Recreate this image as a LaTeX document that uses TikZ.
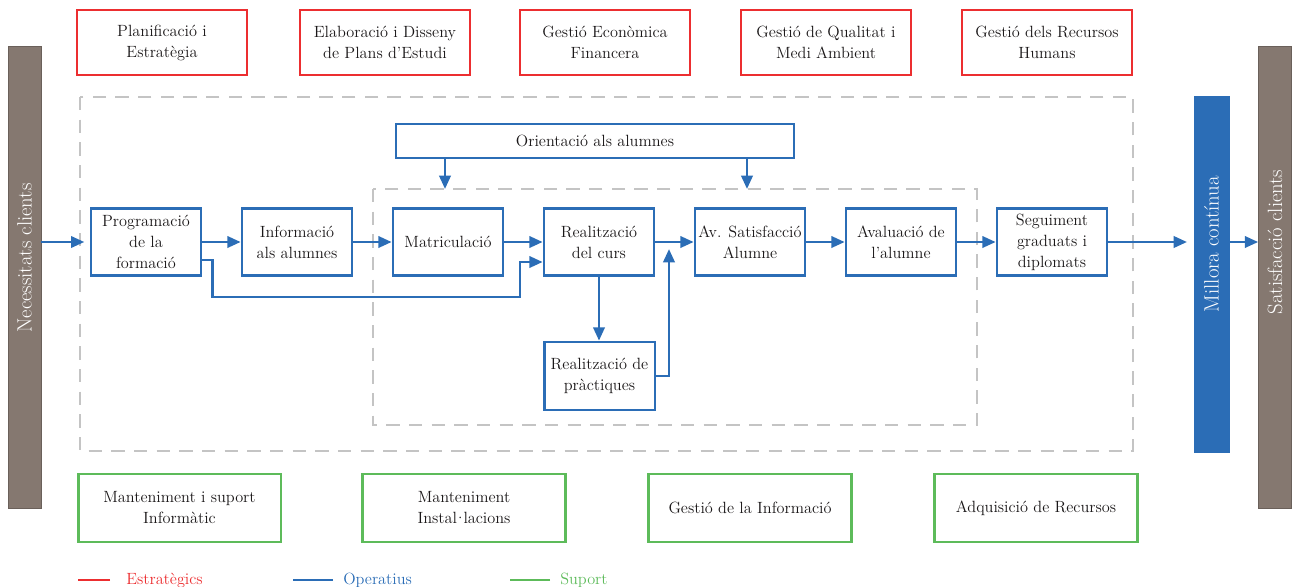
\documentclass[tikz,border=0pt]{standalone}
\usepackage{tikz}
\usepackage{xcolor}
\usetikzlibrary{arrows.meta,calc,positioning}

\definecolor{estratc}{HTML}{EC2E30}
\definecolor{operc}{HTML}{2B6DB6}
\definecolor{suportc}{HTML}{5DBB5A}
\definecolor{barc}{HTML}{857870}
\definecolor{zonec}{HTML}{C4C4C4}
\definecolor{txtc}{HTML}{1A1718}

\newcommand{\boxfont}{\fontsize{12.2}{15.75}\selectfont}
\newcommand{\barfont}{\fontsize{15.5}{18}\selectfont}

\tikzset{
  base/.style={rectangle, inner sep=2pt, align=center, font=\boxfont, text=txtc},
  estrat/.style={base, draw=estratc, line width=2pt, minimum width=127.5pt, minimum height=48.75pt},
  oper/.style={base, draw=operc, line width=2pt, minimum width=82.5pt, minimum height=50pt},
  suport/.style={base, draw=suportc, line width=2pt, minimum width=152pt, minimum height=51pt},
  flow/.style={draw=operc, line width=2pt, -{Triangle[length=10pt,width=8.5pt]}},
  bar/.style={rectangle, fill=barc, draw=barc!80!black, line width=0.5pt, minimum width=24.75pt, minimum height=346.5pt},
  bartext/.style={rotate=90, text=white, font=\barfont},
  zone/.style={draw=zonec, line width=1pt, dash pattern=on 10pt off 7pt},
  legline/.style={line width=2pt}
}

\begin{document}
\begin{tikzpicture}[x=0.75pt,y=-0.75pt]
\useasboundingbox (0,0) rectangle (1293,586);

\node[estrat] (planif) at (162,42.5) {Planificació i\\Estratègia};
\node[estrat] (elab) at (385,42.5) {Elaboració i Disseny\\de Plans d’Estudi};
\node[estrat] (econ) at (605,42.5) {Gestió Econòmica\\Financera};
\node[estrat] (qual) at (826,42.5) {Gestió de Qualitat i\\Medi Ambient};
\node[estrat] (rrhh) at (1047,42.5) {Gestió dels Recursos\\Humans};

\draw[zone] (80,97) rectangle (1133,451);
\draw[zone] (373,189) rectangle (977,425);
\coordinate (o1) at (445,189);
\coordinate (o2) at (747,189);

\node[bar] (necess) at (24.5,277) {};
\node[bartext] (necesst) at (24.5,258) {Necessitats clients};
\node[bar, fill=operc, draw=operc, minimum width=26.25pt, minimum height=267pt] (millora) at (1211.5,274) {};
\node[bartext] (millorat) at (1211.5,244) {Millora contínua};
\node[bar] (satisf) at (1275,277) {};
\node[bartext] (satisft) at (1275,242) {Satisfacció clients};

\node[base, draw=operc, line width=2pt, minimum width=298.5pt, minimum height=25.5pt] (orient) at (595,141) {Orientació als alumnes};

\node[oper] (prog) at (146,242) {Programació\\de la\\formació};
\node[oper] (info) at (297,242) {Informació\\als alumnes};
\node[oper] (matr) at (448,242) {Matriculació};
\node[oper] (real) at (599,242) {Realització\\del curs};
\node[oper] (avsat) at (750,242) {Av. Satisfacció\\Alumne};
\node[oper] (aval) at (901,242) {Avaluació de\\l’alumne};
\node[oper] (seg) at (1052,242) {Seguiment\\graduats i\\diplomats};
\node[oper, minimum width=83pt, minimum height=51pt] (prac) at (599.5,376) {Realització de\\pràctiques};

\coordinate (lp) at (520,297);
\coordinate (pin) at (669,249);

\draw[flow, shorten >=4pt] (necess.east |- prog.west) -- (prog.west);
\draw[flow] (prog.east) -- (info.west);
\draw[flow] (info.east) -- (matr.west);
\draw[flow] (matr.east) -- (real.west);
\draw[flow] (real.east) -- (avsat.west);
\draw[flow] (avsat.east) -- (aval.west);
\draw[flow] (aval.east) -- (seg.west);
\draw[flow, shorten >=5pt] (seg.east) -- (seg.east -| millora.west);
\draw[flow] (millora.east |- seg.east) -- (satisf.west |- seg.east);
\draw[flow] ([yshift=-13.5pt]prog.east) -- ++(7.5pt,0) |- (lp) |- ([yshift=-15pt]real.west);
\draw[flow] (real.south) -- (real.south |- prac.north);
\draw[flow] (prac.east) -| (pin);
\draw[flow] (orient.south -| o1) -- (o1);
\draw[flow] (orient.south -| o2) -- (o2);

\node[suport] (mant) at (179.5,508) {Manteniment i suport\\Informàtic};
\node[suport] (inst) at (464,508) {Manteniment\\Instal\kern-2.2pt·\kern-2.2pt lacions};
\node[suport] (ginfo) at (750,508) {Gestió de la Informació};
\node[suport] (adq) at (1036,508) {Adquisició de Recursos};

\node[anchor=west, font=\boxfont, text=estratc, inner sep=0pt] (legest) at (126,580) {Estratègics};
\node[anchor=west, font=\boxfont, text=operc, inner sep=0pt] (legop) at (343,580) {Operatius};
\node[anchor=west, font=\boxfont, text=suportc, inner sep=0pt] (legsup) at (560,580) {Suport};
\draw[legline, estratc] ([xshift=-12pt]legest.west) -- ++(-24pt,0);
\draw[legline, operc] ([xshift=-7.5pt]legop.west) -- ++(-30pt,0);
\draw[legline, suportc] ([xshift=-7.5pt]legsup.west) -- ++(-30pt,0);
\end{tikzpicture}
\end{document}
